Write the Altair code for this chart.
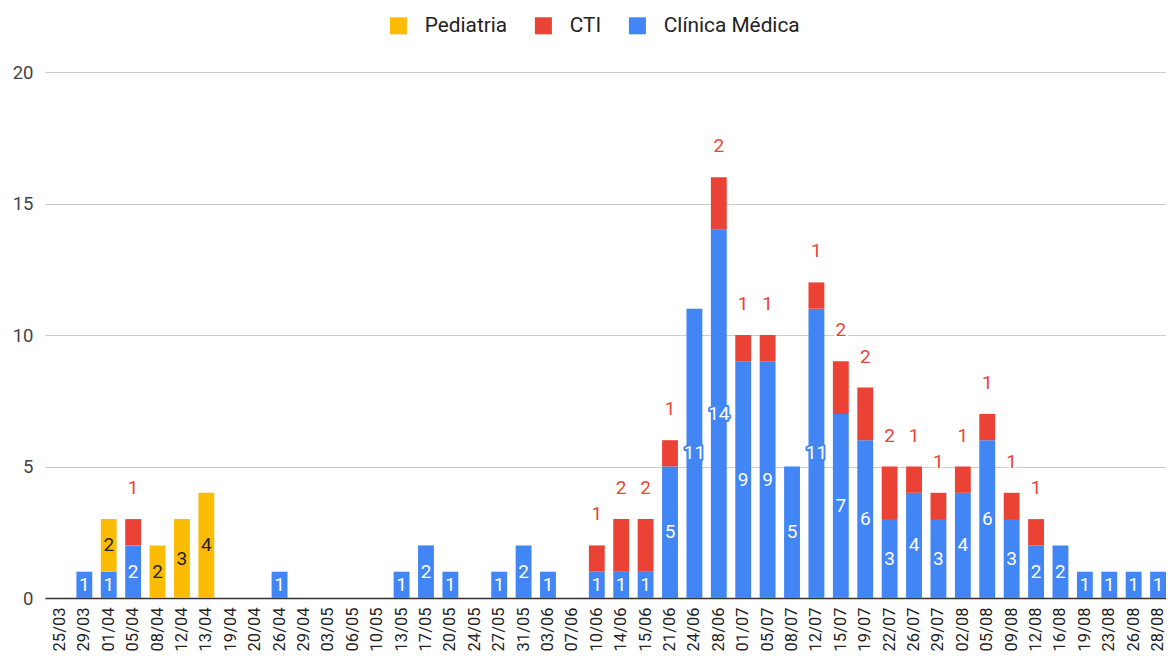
import altair as alt
import pandas as pd

dates = ["25/03","29/03","01/04","05/04","08/04","12/04","13/04","19/04","20/04","26/04",
         "29/04","03/05","06/05","10/05","13/05","17/05","20/05","24/05","27/05","31/05",
         "03/06","07/06","10/06","14/06","15/06","21/06","24/06","28/06","01/07","05/07",
         "08/07","12/07","15/07","19/07","22/07","26/07","29/07","02/08","05/08","09/08",
         "12/08","16/08","19/08","23/08","26/08","28/08"]
clinica = [0,1,1,2,0,0,0,0,0,1,
           0,0,0,0,1,2,1,0,1,2,
           1,0,1,1,1,5,11,14,9,9,
           5,11,7,6,3,4,3,4,6,3,
           2,2,1,1,1,1]
cti = [0,0,0,1,0,0,0,0,0,0,
       0,0,0,0,0,0,0,0,0,0,
       0,0,1,2,2,1,0,2,1,1,
       0,1,2,2,2,1,1,1,1,1,
       1,0,0,0,0,0]
pediatria = [0,0,2,0,2,3,4,0,0,0,
             0,0,0,0,0,0,0,0,0,0,
             0,0,0,0,0,0,0,0,0,0,
             0,0,0,0,0,0,0,0,0,0,
             0,0,0,0,0,0]

series_names = ["Pediatria", "CTI", "Clínica Médica"]
series_colors = ["#fbbc04", "#ea4335", "#4285f4"]

df = pd.DataFrame({"date": dates, "cm": clinica, "cti": cti, "ped": pediatria})

FONT = "Roboto"
LBL = 19
base = alt.Chart(df)

x = alt.X("date:N", sort=dates, title=None,
          scale=alt.Scale(paddingInner=0.35, paddingOuter=0.1434, align=1),
          axis=alt.Axis(labelAngle=-90, ticks=False, domain=True, domainColor="#333333",
                        domainWidth=1.5, labelFontSize=16.5, labelFont=FONT,
                        labelColor="#222222", labelPadding=9, grid=False))
yscale = alt.Scale(domain=[0, 20])

bars = base.transform_fold(["cm", "ped", "cti"], as_=["key", "value"]).transform_calculate(
    series="datum.key == 'cm' ? 'Clínica Médica' : (datum.key == 'ped' ? 'Pediatria' : 'CTI')",
    ord="datum.key == 'cm' ? 0 : (datum.key == 'ped' ? 1 : 2)"
).mark_bar().encode(
    x=x,
    y=alt.Y("value:Q", stack="zero", scale=yscale, title=None,
            axis=alt.Axis(values=[0, 5, 10, 15, 20], domain=False, ticks=False,
                          gridColor="#cccccc", labelFontSize=18.5, labelFont=FONT,
                          labelColor="#444444", labelPadding=12)),
    color=alt.Color("series:N", scale=alt.Scale(domain=series_names, range=series_colors),
                    legend=alt.Legend(title=None, orient="none", direction="horizontal",
                                      legendX=343, legendY=-57, symbolType="square",
                                      symbolSize=290, symbolStrokeWidth=0,
                                      labelFontSize=20.8, labelFont=FONT, labelColor="#222222",
                                      labelOffset=16, columnPadding=25)),
    order=alt.Order("ord:Q"),
)


def label_layer(filt, ycalc, field, color, halo, dy=0):
    b = base.transform_filter(filt).transform_calculate(yy=ycalc)
    enc = dict(x=x, y=alt.Y("yy:Q", scale=yscale), text=f"{field}:Q")
    h = b.mark_text(color=halo, stroke=halo, strokeWidth=4, strokeJoin="round",
                    fontSize=LBL, font=FONT, baseline="middle", dy=dy).encode(**enc)
    t = b.mark_text(color=color, fontSize=LBL, font=FONT, baseline="middle", dy=dy).encode(**enc)
    return [h, t]


layers = [bars]
layers += label_layer("datum.cm > 0", "datum.cm / 2", "cm", "white", "#4285f4")
layers += label_layer("datum.ped > 0", "datum.cm + datum.ped / 2", "ped", "#222222", "#fbbc04")
layers += label_layer("datum.cti > 0", "datum.cm + datum.cti + datum.ped", "cti", "#ea4335",
                      "white", dy=-31)

chart = alt.layer(*layers).properties(
    width=1121, height=526,
    autosize=alt.AutoSizeParams(type="none"),
    padding={"left": 37, "top": 64, "right": 0, "bottom": 55},
).configure_view(stroke=None)

chart.save("out.html", embed_options={"renderer": "svg", "actions": False})
